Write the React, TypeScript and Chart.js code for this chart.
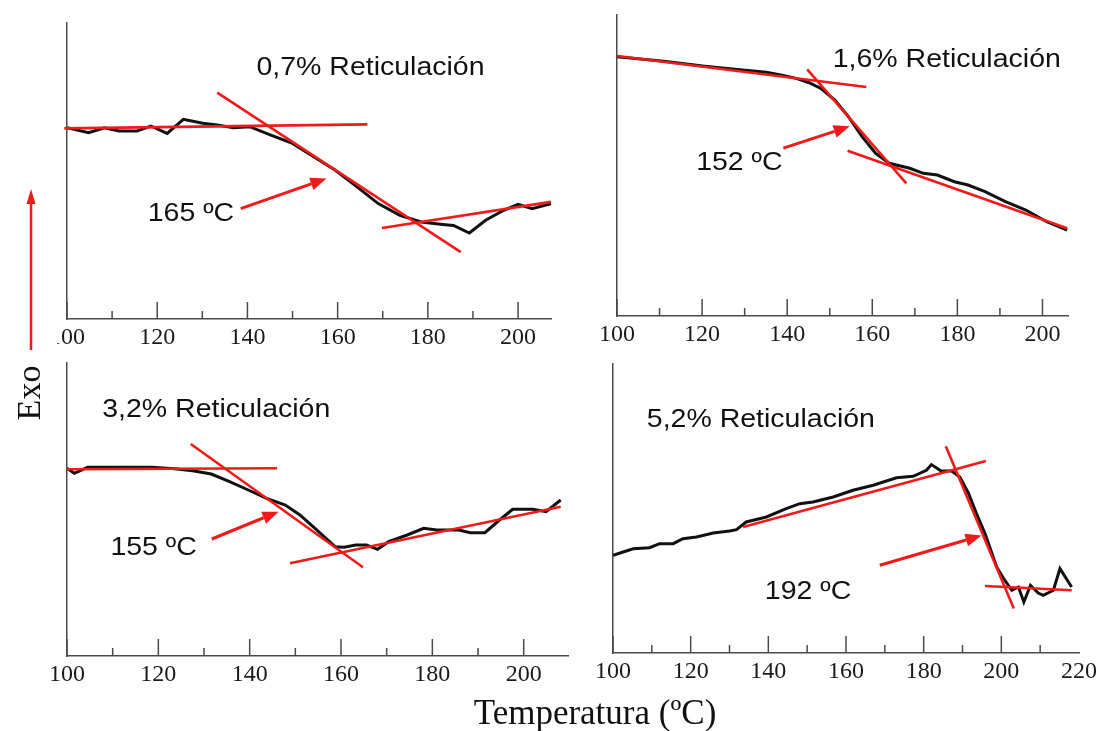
import React, { useEffect, useRef } from "react";
import { Chart, registerables } from "chart.js";

Chart.register(...registerables);

// ---------- shared axis data ----------
const X_TICKS_200 = [100, 120, 140, 160, 180, 200];
const X_TICKS_220 = [100, 120, 140, 160, 180, 200, 220];
const X_MIN = 100;
const MINOR_STEP = 10;
const MAJOR_STEP = 20;

// ---------- Panel 1: 0,7% ----------
const P1_TITLE = "0,7% Reticulación";
const P1_ONSET = "165 ºC";
const P1_XMAX = 207.3;
const P1_YMAX = 296;
const P1_TEMP = [100, 104.8, 108.3, 111.5, 115.5, 118.6, 122.2, 125.8, 130.1, 133.3, 136.9, 140.5, 145.2, 150.0, 154.7, 159.5, 164.3, 169.0, 173.8, 178.5, 183.3, 185.7, 189.2, 192.8, 196.8, 200.0, 203.1, 207.3];
const P1_SIGNAL = [191.3, 186.3, 191.3, 188.0, 188.0, 193.0, 185.6, 199.7, 195.7, 194.0, 191.3, 192.3, 183.9, 175.6, 162.2, 148.8, 132.1, 115.4, 103.7, 97.0, 94.6, 93.6, 86.0, 98.7, 108.7, 114.7, 110.4, 115.4];
const P1_BASELINE = [[99.4, 190.6], [166.6, 194.6]];
const P1_TANGENT = [[133.3, 226.4], [187.3, 66.9]];
const P1_AFTER = [[169.8, 91.0], [207.3, 117.1]];
const P1_ARROW = [[138.5, 110.4], [157.5, 140.5]];
const P1_TITLE_AT = [142.0, 250.8];
const P1_ONSET_AT = [117.9, 105.3];

// ---------- Panel 2: 1,6% ----------
const P2_TITLE = "1,6% Reticulación";
const P2_ONSET = "152 ºC";
const P2_XMAX = 206.0;
const P2_YMAX = 301;
const P2_TEMP = [100, 111.0, 120.6, 129.5, 135.1, 139.1, 142.3, 145.0, 147.9, 151.2, 154.4, 157.6, 160.8, 164.0, 168.8, 172.0, 175.3, 179.3, 182.5, 186.5, 191.3, 196.1, 201.0, 205.8];
const P2_SIGNAL = [259.2, 254.8, 249.8, 246, 243.8, 240.5, 237.4, 233.5, 227.7, 216, 199.3, 179.3, 162.7, 152.7, 147.7, 142.7, 141, 134.3, 131, 124.3, 114.3, 106, 94.3, 86];
const P2_BASELINE = [[100, 260], [158.6, 229]];
const P2_TANGENT = [[144.7, 246.7], [168.0, 132.7]];
const P2_AFTER = [[154.2, 165.3], [205.8, 87.7]];
const P2_ARROW = [[139.1, 167.8], [154.7, 189.7]];
const P2_TITLE_AT = [150.7, 256];
const P2_ONSET_AT = [118.6, 152.5];

// ---------- Panel 3: 3,2% ----------
const P3_TITLE = "3,2% Reticulación";
const P3_ONSET = "155 ºC";
const P3_XMAX = 209.7;
const P3_YMAX = 293;
const P3_TEMP = [100, 101.6, 104.5, 109.7, 118.6, 123.5, 127.5, 131.6, 135.6, 139.7, 143.7, 147.8, 151.0, 154.3, 156.7, 158.7, 160.7, 163.2, 165.6, 168.0, 170.4, 174.5, 178.1, 181.0, 185.8, 188.3, 191.5, 194.7, 197.6, 202.0, 204.9, 208.1];
const P3_SIGNAL = [187.7, 182.7, 188.7, 188.7, 188.7, 187.3, 185.3, 182, 174.3, 166, 157.7, 151, 141, 127.7, 117.7, 109.3, 108.7, 111, 111, 106.7, 114.3, 121, 127.7, 126, 126, 123.3, 123.3, 136, 146.7, 146.7, 144.3, 156];
const P3_BASELINE = [[100, 186.7], [146.0, 187.7]];
const P3_TANGENT = [[127.1, 212], [164.8, 88.7]];
const P3_AFTER = [[148.8, 92.7], [208.1, 149.3]];
const P3_ARROW = [[131.7, 117], [146.3, 144.3]];
const P3_TITLE_AT = [107.7, 246];
const P3_ONSET_AT = [109.5, 108];

// ---------- Panel 4: 5,2% ----------
const P4_TITLE = "5,2% Reticulación";
const P4_ONSET = "192 ºC";
const P4_XMAX = 220;
const P4_YMAX = 289;
const P4_TEMP = [100, 102.6, 105.2, 109.4, 112.0, 115.5, 118.0, 121.5, 125.8, 130.0, 131.8, 134.3, 139.5, 144.6, 148.1, 151.5, 156.7, 161.8, 167.0, 173.0, 177.3, 180.7, 182.0, 184.5, 187.2, 189.3, 191.5, 193.6, 195.8, 198.8, 200.5, 202.7, 204.4, 205.8, 207.5, 209.5, 210.8, 213.4, 215.1, 218.1];
const P4_SIGNAL = [97.7, 101, 104.3, 105.3, 109.3, 109.3, 114.3, 116, 120, 122, 123.3, 131, 136, 144.3, 149.3, 151, 156, 162.7, 167.7, 175.3, 176.7, 182.7, 188.4, 182, 182, 176, 160, 139.4, 119.4, 86, 75, 62.7, 66, 51, 67.7, 60, 57.7, 62.7, 84.4, 66];
const P4_BASELINE = [[133.5, 126], [196.0, 192]];
const P4_TANGENT = [[185.7, 206.7], [203.2, 44.4]];
const P4_AFTER = [[195.8, 67], [218.1, 62.7]];
const P4_ARROW = [[168.7, 87.7], [194.9, 117.5]];
const P4_TITLE_AT = [108.7, 232.7];
const P4_ONSET_AT = [139.1, 61];

// ---------- styling ----------
const RED = "#f01a1a";
const CURVE = "#111111";
const AXIS = "#4a4a4a";
const SERIF = '"Liberation Serif", "DejaVu Serif", serif';
const SANS = '"Liberation Sans", Arial, sans-serif';
const PADL = 40;
const PADR = 26;
const PADT = 6;
const XH = 40;

type Pt = number[];
type Spec = {
  title: string; onset: string; xmax: number; ymax: number; xticks: number[];
  temp: number[]; signal: number[]; lines: Pt[][]; arrow: Pt[]; titleAt: Pt; onsetAt: Pt;
};

const SPECS: Spec[] = [
  { title: P1_TITLE, onset: P1_ONSET, xmax: P1_XMAX, ymax: P1_YMAX, xticks: X_TICKS_200, temp: P1_TEMP, signal: P1_SIGNAL, lines: [P1_BASELINE, P1_TANGENT, P1_AFTER], arrow: P1_ARROW, titleAt: P1_TITLE_AT, onsetAt: P1_ONSET_AT },
  { title: P2_TITLE, onset: P2_ONSET, xmax: P2_XMAX, ymax: P2_YMAX, xticks: X_TICKS_200, temp: P2_TEMP, signal: P2_SIGNAL, lines: [P2_BASELINE, P2_TANGENT, P2_AFTER], arrow: P2_ARROW, titleAt: P2_TITLE_AT, onsetAt: P2_ONSET_AT },
  { title: P3_TITLE, onset: P3_ONSET, xmax: P3_XMAX, ymax: P3_YMAX, xticks: X_TICKS_200, temp: P3_TEMP, signal: P3_SIGNAL, lines: [P3_BASELINE, P3_TANGENT, P3_AFTER], arrow: P3_ARROW, titleAt: P3_TITLE_AT, onsetAt: P3_ONSET_AT },
  { title: P4_TITLE, onset: P4_ONSET, xmax: P4_XMAX, ymax: P4_YMAX, xticks: X_TICKS_220, temp: P4_TEMP, signal: P4_SIGNAL, lines: [P4_BASELINE, P4_TANGENT, P4_AFTER], arrow: P4_ARROW, titleAt: P4_TITLE_AT, onsetAt: P4_ONSET_AT },
];

// plot-area placement on the page (layout only)
const BOXES = [
  { left: 67, top: 23, w: 484, h: 296, clipLeft: 57 },
  { left: 617, top: 15, w: 451, h: 301 },
  { left: 67, top: 363, w: 501, h: 293 },
  { left: 613, top: 364, w: 466, h: 289 },
];

function makeAnnot(spec: Spec) {
  return {
    id: "annot",
    beforeDatasetsDraw(chart: any) {
      const { ctx, scales } = chart;
      const x = scales.x, y = scales.y;
      const base = y.getPixelForValue(0);
      ctx.save();
      ctx.strokeStyle = AXIS;
      ctx.lineWidth = 1.5;
      for (let v = X_MIN; v < spec.xmax - 1; v += MINOR_STEP) {
        const px = x.getPixelForValue(v);
        const len = (v - X_MIN) % MAJOR_STEP === 0 ? 17 : 8;
        ctx.beginPath();
        ctx.moveTo(px, base);
        ctx.lineTo(px, base - len);
        ctx.stroke();
      }
      ctx.restore();
    },
    afterDatasetsDraw(chart: any) {
      const { ctx, scales } = chart;
      const x = scales.x, y = scales.y;
      // arrow
      const x0 = x.getPixelForValue(spec.arrow[0][0]);
      const y0 = y.getPixelForValue(spec.arrow[0][1]);
      const x1 = x.getPixelForValue(spec.arrow[1][0]);
      const y1 = y.getPixelForValue(spec.arrow[1][1]);
      const ang = Math.atan2(y1 - y0, x1 - x0);
      const HL = 16, HW = 6.5;
      const bx = x1 - HL * Math.cos(ang), by = y1 - HL * Math.sin(ang);
      ctx.save();
      ctx.strokeStyle = RED;
      ctx.fillStyle = RED;
      ctx.lineWidth = 3;
      ctx.beginPath();
      ctx.moveTo(x0, y0);
      ctx.lineTo(bx, by);
      ctx.stroke();
      ctx.beginPath();
      ctx.moveTo(x1, y1);
      ctx.lineTo(bx + HW * Math.sin(ang), by - HW * Math.cos(ang));
      ctx.lineTo(bx - HW * Math.sin(ang), by + HW * Math.cos(ang));
      ctx.closePath();
      ctx.fill();
      ctx.restore();
      // texts
      const drawText = (txt: string, at: Pt) => {
        ctx.save();
        ctx.font = `25px ${SANS}`;
        ctx.fillStyle = "#111";
        ctx.textAlign = "left";
        ctx.textBaseline = "middle";
        ctx.translate(x.getPixelForValue(at[0]), y.getPixelForValue(at[1]));
        ctx.scale(1.14, 1);
        ctx.fillText(txt, 0, 0);
        ctx.restore();
      };
      drawText(spec.title, spec.titleAt);
      drawText(spec.onset, spec.onsetAt);
    },
  };
}

function buildConfig(spec: Spec): any {
  const redLine = (pts: Pt[]) => ({
    data: pts.map((p) => ({ x: p[0], y: p[1] })),
    borderColor: RED,
    borderWidth: 2.6,
    pointRadius: 0,
    tension: 0,
    fill: false,
    clip: false,
  });
  return {
    type: "line",
    data: {
      datasets: [
        ...spec.lines.map(redLine),
        {
          data: spec.temp.map((t, i) => ({ x: t, y: spec.signal[i] })),
          borderColor: CURVE,
          borderWidth: 3,
          pointRadius: 0,
          tension: 0,
          fill: false,
        },
      ],
    },
    options: {
      responsive: false,
      animation: false,
      devicePixelRatio: 1,
      events: [],
      layout: { padding: { left: PADL, right: PADR, top: PADT, bottom: 0 } },
      plugins: { legend: { display: false }, tooltip: { enabled: false }, title: { display: false } },
      scales: {
        x: {
          type: "linear",
          min: X_MIN,
          max: spec.xmax,
          grid: { display: false, drawTicks: false },
          border: { display: true, color: AXIS, width: 1.5 },
          ticks: {
            font: { family: SERIF, size: 24 },
            color: "#1a1a1a",
            padding: 4,
            maxRotation: 0,
            autoSkip: false,
            callback: (v: any) => String(v),
          },
          afterBuildTicks: (s: any) => {
            s.ticks = spec.xticks.map((v) => ({ value: v }));
          },
          afterFit: (s: any) => {
            s.height = XH;
          },
        },
        y: {
          type: "linear",
          min: 0,
          max: spec.ymax,
          grid: { display: false, drawTicks: false },
          border: { display: true, color: AXIS, width: 1.5 },
          ticks: { display: false },
          afterFit: (s: any) => {
            s.width = 0;
          },
        },
      },
    },
    plugins: [makeAnnot(spec)],
  };
}

function Panel({ spec, box }: { spec: Spec; box: any }) {
  const ref = useRef<HTMLCanvasElement>(null);
  useEffect(() => {
    const chart = new Chart(ref.current as HTMLCanvasElement, buildConfig(spec));
    return () => chart.destroy();
  }, [spec]);
  const cw = box.w + PADL + PADR;
  const ch = box.h + PADT + XH;
  const cl = box.left - PADL;
  const ct = box.top - PADT;
  const clipLeft = box.clipLeft !== undefined ? box.clipLeft : cl;
  return (
    <div style={{ position: "absolute", left: clipLeft, top: ct, width: cl + cw - clipLeft, height: ch, overflow: "hidden" }}>
      <canvas ref={ref} width={cw} height={ch} style={{ position: "absolute", left: cl - clipLeft, top: 0, width: cw, height: ch }} />
    </div>
  );
}

export default function App() {
  return (
    <div style={{ position: "fixed", left: 0, top: 0, width: 1098, height: 731, background: "#fff", overflow: "hidden" }}>
      {SPECS.map((s, i) => (
        <Panel key={i} spec={s} box={BOXES[i]} />
      ))}
      <svg style={{ position: "absolute", left: 0, top: 0 }} width={60} height={360}>
        <line x1={31} y1={350} x2={31} y2={202} stroke={RED} strokeWidth={2.5} />
        <polygon points="31,189 26.5,204 35.5,204" fill={RED} />
      </svg>
      <div
        style={{
          position: "absolute",
          left: 29,
          top: 393,
          transform: "translate(-50%, -50%) rotate(-90deg)",
          fontFamily: SERIF,
          fontSize: 34,
          color: "#111",
          whiteSpace: "nowrap",
          lineHeight: 1,
        }}
      >
        Exo
      </div>
      <div
        style={{
          position: "absolute",
          left: 595,
          top: 712,
          transform: "translate(-50%, -50%)",
          fontFamily: SERIF,
          fontSize: 35,
          color: "#111",
          whiteSpace: "nowrap",
          lineHeight: 1,
        }}
      >
        Temperatura (ºC)
      </div>
    </div>
  );
}
